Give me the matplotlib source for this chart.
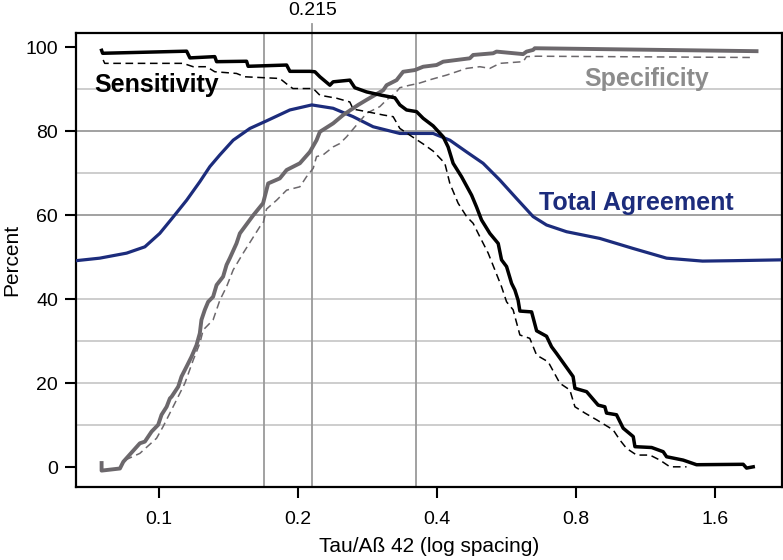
import matplotlib
matplotlib.use('Agg')
import matplotlib.pyplot as plt
from matplotlib.ticker import FixedLocator, NullLocator

plt.rcParams['font.family'] = ['Liberation Sans', 'DejaVu Sans']

# Sensitivity (solid = main, dashed = second curve)
sens_x = [0.0753, 0.0757, 0.1150, 0.1169, 0.1323, 0.1335, 0.1550, 0.1562, 0.1892, 0.1923,
          0.2124, 0.2178, 0.2233, 0.2347, 0.2385, 0.2592, 0.2657, 0.2817, 0.3036, 0.3244,
          0.3325, 0.3438, 0.3613, 0.3735, 0.3925, 0.4126, 0.4228, 0.4335, 0.4521, 0.4753,
          0.4871, 0.4994, 0.5205, 0.5426, 0.5517, 0.5657, 0.5800, 0.5897, 0.5991, 0.6045,
          0.6408, 0.6570, 0.6903, 0.7077, 0.7256, 0.7878, 0.7951, 0.8427, 0.8925, 0.9229,
          0.9306, 0.9780, 1.011, 1.063, 1.072, 1.165, 1.234, 1.255, 1.363, 1.457,
          1.838, 1.869, 1.932]
sens_y = [99.3, 98.6, 99.1, 97.5, 97.8, 96.6, 96.7, 95.5, 95.8, 94.3,
          94.3, 94.2, 93.0, 91.0, 91.8, 92.2, 90.4, 89.4, 88.6, 88.0,
          86.3, 85.1, 84.7, 83.1, 81.3, 78.7, 76.3, 72.4, 69.2, 64.8,
          62.0, 58.9, 55.7, 53.3, 49.4, 47.8, 43.8, 42.2, 39.8, 37.2,
          37.0, 32.5, 31.2, 28.7, 27.1, 21.6, 18.8, 18.0, 14.8, 14.4,
          12.9, 12.5, 9.3, 7.3, 4.9, 4.7, 3.7, 2.5, 1.7, 0.6,
          0.7, -0.2, 0.1]

sens2_x = [0.0759, 0.0765, 0.1130, 0.1188, 0.1270, 0.1323, 0.1474, 0.1537, 0.1829, 0.1907,
           0.1952, 0.2160, 0.2233, 0.2426, 0.2592, 0.2635, 0.2817, 0.3061, 0.3216, 0.3325,
           0.3494, 0.3735, 0.3925, 0.4160, 0.4265, 0.4444, 0.4636, 0.4790, 0.4952, 0.5162,
           0.5337, 0.5517, 0.5657, 0.5845, 0.5897, 0.6045, 0.6351, 0.6570, 0.6960, 0.7377,
           0.7753, 0.7951, 0.8358, 0.8857, 0.9618, 0.9944, 1.028, 1.081, 1.155, 1.214,
           1.276, 1.386]
sens2_y = [97.0, 96.2, 96.2, 95.4, 95.4, 94.2, 93.8, 93.0, 92.6, 91.0,
           90.2, 90.2, 88.6, 87.9, 87.0, 85.3, 84.7, 83.9, 83.5, 80.7,
           79.1, 77.0, 75.3, 72.4, 67.6, 62.9, 59.7, 58.1, 54.9, 51.0,
           47.0, 43.0, 39.4, 37.5, 35.9, 31.5, 30.7, 26.7, 25.1, 20.0,
           18.4, 14.4, 12.9, 11.3, 8.9, 6.5, 4.5, 2.9, 2.9, 1.7,
           0.1, 0.1]

# Specificity
spec_x = [0.0753, 0.0753, 0.0825, 0.0839, 0.0911, 0.0934, 0.0966, 0.0998, 0.1015, 0.1041,
          0.1058, 0.1067, 0.1103, 0.1121, 0.1150, 0.1178, 0.1208, 0.1228, 0.1238, 0.1259,
          0.1280, 0.1312, 0.1335, 0.1379, 0.1403, 0.1426, 0.1474, 0.1499, 0.1602, 0.1683,
          0.1726, 0.1829, 0.1892, 0.2021, 0.2124, 0.2196, 0.2233, 0.2385, 0.2507, 0.2702,
          0.2817, 0.3061, 0.3113, 0.3271, 0.3380, 0.3583, 0.3735, 0.3992, 0.4126, 0.4711,
          0.4790, 0.5292, 0.5381, 0.6143, 0.6249, 0.6457, 0.6510, 1.964]
spec_y = [1.0, -0.8, -0.3, 1.3, 5.7, 6.1, 8.5, 10.1, 12.5, 14.4,
          16.4, 16.8, 19.2, 21.6, 24.0, 26.3, 29.1, 31.9, 35.1, 37.5,
          39.4, 40.6, 43.4, 45.4, 48.2, 49.8, 53.3, 55.7, 60.0, 62.9,
          67.6, 68.8, 70.8, 72.4, 75.1, 77.9, 79.9, 81.9, 83.9, 86.3,
          87.5, 89.8, 91.0, 92.2, 94.2, 94.6, 95.4, 95.8, 96.6, 97.4,
          98.2, 98.6, 99.0, 98.4, 99.0, 99.4, 99.8, 99.1]

spec2_x = [0.0846, 0.0911, 0.0990, 0.1023, 0.1075, 0.1140, 0.1188, 0.1228, 0.1249, 0.1312,
           0.1357, 0.1403, 0.1450, 0.1524, 0.1656, 0.1683, 0.1712, 0.1800, 0.1892, 0.2021,
           0.2089, 0.2160, 0.2196, 0.2269, 0.2385, 0.2466, 0.2550, 0.2680, 0.2817, 0.3010,
           0.3113, 0.3244, 0.3325, 0.3494, 0.3643, 0.3893, 0.4195, 0.4410, 0.4636, 0.4952,
           0.5205, 0.5471, 0.6143, 0.6249, 0.6570, 1.900]
spec2_y = [1.7, 3.3, 6.9, 9.7, 14.4, 20.0, 25.5, 29.5, 32.7, 35.1,
           39.8, 43.0, 47.0, 51.0, 57.3, 58.1, 61.5, 63.6, 66.0, 66.8,
           69.2, 71.2, 74.0, 74.4, 76.3, 77.1, 78.7, 81.5, 84.3, 85.9,
           87.5, 89.0, 90.4, 91.0, 91.4, 92.4, 93.4, 94.2, 95.0, 95.4,
           95.0, 96.2, 96.6, 97.8, 97.9, 97.6]

# Total agreement
agree_x = [0.0663, 0.0746, 0.0853, 0.0934, 0.1006, 0.1070, 0.1150, 0.1228, 0.1291, 0.1357,
           0.1450, 0.1576, 0.1712, 0.1923, 0.2145, 0.2385, 0.2635, 0.2911, 0.3325, 0.3925,
           0.4265, 0.4636, 0.5033, 0.5471, 0.5946, 0.6457, 0.6903, 0.7625, 0.9000, 1.063,
           1.255, 1.501, 1.750, 2.226]
agree_y = [49.2, 49.8, 51.0, 52.5, 55.7, 59.3, 63.6, 68.0, 71.6, 74.4,
           77.9, 80.7, 82.5, 85.1, 86.3, 85.5, 83.5, 81.1, 79.5, 79.5,
           77.9, 75.1, 72.4, 68.4, 64.0, 59.7, 57.7, 56.1, 54.5, 52.1,
           49.8, 49.1, 49.2, 49.4]

cutoffs = [0.169, 0.215, 0.361]
xticks = [0.1, 0.2, 0.4, 0.8, 1.6]
yticks = [0, 20, 40, 60, 80, 100]

fig = plt.figure(figsize=(7.83, 5.6), dpi=100)
ax = fig.add_axes([0.0971, 0.1304, 0.9012, 0.8112])
ax.set_xscale('log')
ax.set_xlim(0.0663, 2.226)
ax.set_ylim(-4.7, 103.5)

# grid
for g in [10, 20, 30, 40, 70, 90]:
    ax.axhline(g, color='#c9c9c9', lw=1.3, zorder=1)
for g in [60, 80]:
    ax.axhline(g, color='#9a9a9a', lw=1.3, zorder=1)
for c in cutoffs:
    ax.axvline(c, color='#9a9a9a', lw=1.3, zorder=1)
ax.axvline(0.215, ymin=1.0, ymax=1.02, color='#9a9a9a', lw=1.3, clip_on=False)
ax.text(0.215, 1.048, '0.215', transform=ax.get_xaxis_transform(), ha='center', va='center', fontsize=14)

navy = '#1c2c7c'
gray = '#6c686c'
ax.plot(agree_x, agree_y, color=navy, lw=2.3, zorder=3)
ax.plot(spec2_x, spec2_y, color=gray, lw=1.1, ls=(0, (5, 3)), zorder=3)
ax.plot(sens2_x, sens2_y, color='black', lw=1.1, ls=(0, (5, 3)), zorder=3)
ax.plot(spec_x, spec_y, color=gray, lw=2.8, zorder=4)
ax.plot(sens_x, sens_y, color='black', lw=2.5, zorder=5)

ax.text(0.0989, 89.4, 'Sensitivity', ha='center', va='baseline', fontsize=18, fontweight='bold', color='black')
ax.text(1.136, 90.8, 'Specificity', ha='center', va='baseline', fontsize=18, fontweight='bold', color='#8c8c8c')
ax.text(1.080, 61.3, 'Total Agreement', ha='center', va='baseline', fontsize=18, fontweight='bold', color=navy)

ax.xaxis.set_major_locator(FixedLocator(xticks))
ax.xaxis.set_minor_locator(NullLocator())
ax.set_xticklabels([str(t) for t in xticks])
ax.set_yticks(yticks)
ax.tick_params(axis='both', direction='out', length=8, width=1.5, labelsize=14)
ax.tick_params(axis='x', pad=9)
ax.tick_params(axis='y', pad=5)
for s in ax.spines.values():
    s.set_linewidth(1.6)

ax.set_xlabel('Tau/Aß 42 (log spacing)', fontsize=15, labelpad=7)
ax.set_ylabel('Percent', fontsize=15)
ax.yaxis.set_label_coords(-0.078, 0.5)

fig.savefig('out.png', dpi=100)
